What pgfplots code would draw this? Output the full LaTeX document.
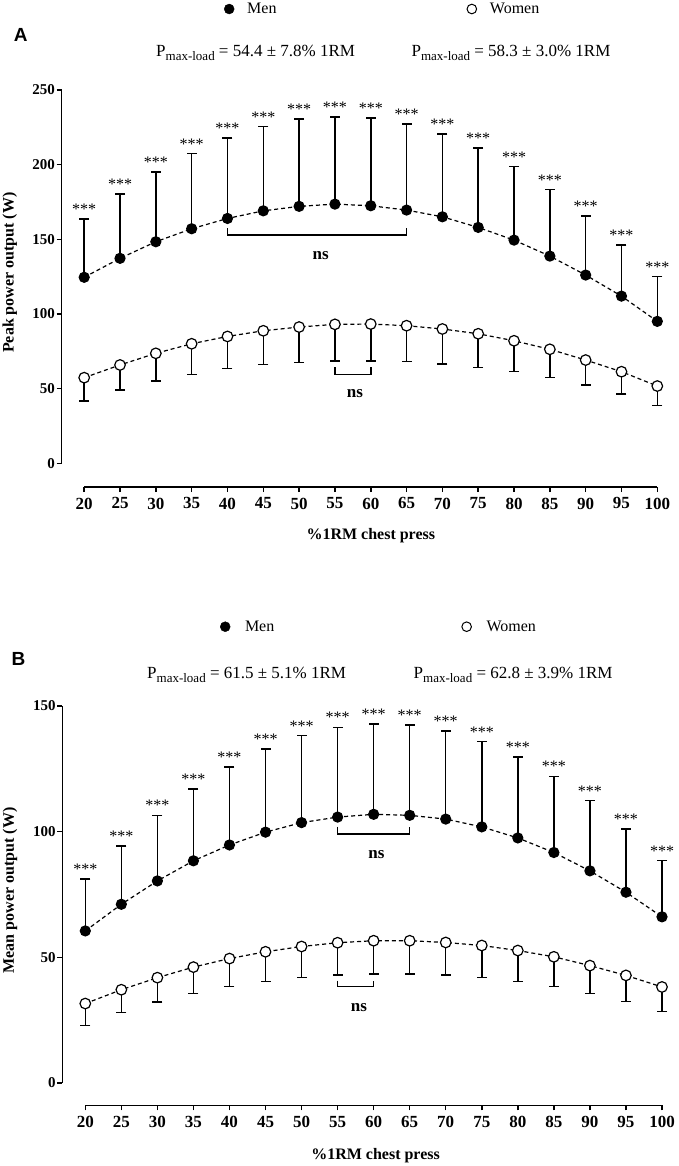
\documentclass[border=0pt]{standalone}
\usepackage{fontspec}
\setmainfont{Liberation Serif}
\newfontfamily\arialfont{Liberation Sans}
\usepackage{pgfplots}
\usepackage{pgfplotstable}
\pgfplotsset{compat=1.18}

\pgfplotstableread{
x m mu w wl
20 124.6 163.6 57.4 41.8
25 137.3 180.3 65.9 49.3
30 148.4 195.0 73.7 55.2
35 157.1 207.5 80.1 59.6
40 164.0 218.0 85.0 63.4
45 169.1 225.4 88.8 66.1
50 172.1 230.5 91.3 67.7
55 173.6 232.0 93.1 68.5
60 172.5 231.4 93.3 68.7
65 169.6 227.4 92.2 68.1
70 165.1 220.7 90.0 66.5
75 158.0 211.3 86.8 64.3
80 149.5 198.8 82.1 61.4
85 138.8 183.4 76.4 57.4
90 126.1 165.8 69.2 52.5
95 112.0 146.2 61.4 46.4
100 95.1 125.2 51.8 38.9
}\dataA

\pgfplotstableread{
x m mu w wl
20 60.5 81.1 31.6 22.8
25 71.1 94.3 37.1 28.1
30 80.4 106.5 41.9 32.3
35 88.4 117.0 46.1 35.6
40 94.7 125.8 49.5 38.4
45 99.8 132.9 52.2 40.4
50 103.6 138.2 54.3 42.0
55 105.8 141.5 55.8 43.0
60 106.9 142.9 56.6 43.4
65 106.5 142.4 56.6 43.4
70 105.0 140.1 55.9 42.9
75 101.9 135.8 54.7 42.0
80 97.5 129.8 52.7 40.4
85 91.7 122.0 50.2 38.4
90 84.4 112.3 46.7 35.6
95 75.9 101.1 42.8 32.4
100 66.1 88.5 38.2 28.5
}\dataB

\pgfplotsset{
  panel/.style={
    scale only axis, clip=false,
    axis line style={draw=none},
    xmax=100,
    xtick={20,25,...,100},
    tick align=outside, xtick pos=bottom, ytick pos=left,
    major tick length=5pt,
    tick style={black, line width=1.5pt},
    /pgf/number format/assume math mode=true,
    xticklabel style={font=\fontsize{17}{17}\selectfont\bfseries, inner ysep=5.5pt},
    yticklabel style={font=\fontsize{15}{15}\selectfont\bfseries, inner xsep=1.5pt},
    label style={font=\fontsize{16}{16}\selectfont\bfseries},
    xlabel={\%1RM chest press},
    legend columns=2,
    legend style={draw=none, fill=none, inner sep=0pt, outer sep=0pt, anchor=west,
      nodes={inner sep=0pt, font=\fontsize{16}{16}\selectfont}},
  },
  errM/.style={black, solid, line width=1.5pt, only marks, mark=none, forget plot,
    error bars/.cd, y dir=plus, y explicit,
    error bar style={black, solid, line width=1.5pt}, error mark=none},
  errW/.style={black, solid, line width=1.5pt, only marks, mark=none, forget plot,
    error bars/.cd, y dir=minus, y explicit,
    error bar style={black, solid, line width=1.5pt}, error mark=none},
  caps/.style={black, solid, only marks, mark=-, mark size=5pt, forget plot,
    mark options={solid, line width=1.5pt}},
  lineM/.style={black, line width=1.2pt, dash pattern=on 4pt off 3pt, forget plot,
    mark=*, mark size=5pt, mark options={solid, fill=black}},
  lineW/.style={black, line width=1.2pt, dash pattern=on 4pt off 3pt, forget plot,
    mark=*, mark size=5.3pt, mark options={solid, fill=white, line width=1.2pt}},
  stars/.style={draw=none, mark=none, forget plot, nodes near coords={***},
    every node near coord/.append style={anchor=base, inner sep=0pt, yshift=4.4pt,
      font=\fontsize{16}{16}\selectfont, text=black}},
}

\begin{document}
\begin{tikzpicture}
\path[use as bounding box] (0pt,0pt) rectangle (678pt,-1166pt);

% ---------------- Panel A ----------------
\begin{axis}[panel,
  at={(61.7pt,-487pt)}, anchor=south west,
  width=595.6pt, height=397pt,
  xmin=16.86, ymin=-15.8, ymax=250,
  ytick={0,50,...,250},
  ylabel={Peak power output (W)},
  ylabel style={at={(axis description cs:-0.087,0.540)}, anchor=center},
  xlabel style={at={(axis description cs:0.519,-0.1234)}, anchor=center},
  legend style={at={(axis description cs:0.2725,1.204)},
    /tikz/every odd column/.append style={column sep=12.8pt},
    /tikz/every even column/.append style={column sep=190pt}},
]
\draw[line width=1.5pt] (axis cs:16.86,0) -- (axis cs:16.86,250);
\draw[line width=1.5pt] (axis cs:20,-15.8) -- (axis cs:100,-15.8);

\addlegendimage{legend image code/.code={\fill[black] (0pt,0pt) circle (5pt);}}
\addlegendentry{Men}
\addlegendimage{legend image code/.code={\draw[black, fill=white, line width=1pt] (0pt,0pt) circle (4.8pt);}}
\addlegendentry{Women}

\addplot[errM] table[x=x, y=m, y error plus expr=\thisrow{mu}-\thisrow{m}] {\dataA};
\addplot[errW] table[x=x, y=w, y error minus expr=\thisrow{w}-\thisrow{wl}] {\dataA};
\addplot[caps] table[x=x, y=mu] {\dataA};
\addplot[caps] table[x=x, y=wl] {\dataA};
\addplot[lineM] table[x=x, y=m] {\dataA};
\addplot[lineW] table[x=x, y=w] {\dataA};
\addplot[stars] table[x=x, y=mu] {\dataA};

\draw[line width=1.5pt] (axis cs:40,157.4) -- (axis cs:40,152.9) -- (axis cs:65,152.9) -- (axis cs:65,157.4);
\node[anchor=base, inner sep=0pt, font=\fontsize{17}{17}\selectfont\bfseries] at (axis cs:53,136.8) {ns};
\draw[line width=1.5pt] (axis cs:55,64.3) -- (axis cs:55,59.6) -- (axis cs:60,59.6) -- (axis cs:60,64.3);
\node[anchor=base, inner sep=0pt, font=\fontsize{17}{17}\selectfont\bfseries] at (axis cs:57.8,44.4) {ns};
\end{axis}

\node[inner sep=0pt, font=\arialfont\fontsize{19}{19}\selectfont\bfseries] at (20.8pt,-35pt) {A};
\node[anchor=base west, inner sep=0pt, font=\fontsize{17}{17}\selectfont] at (156pt,-56.7pt)
  {P\raisebox{-4pt}{\fontsize{13}{13}\selectfont max-load} = 54.4 ± 7.8\% 1RM};
\node[anchor=base west, inner sep=0pt, font=\fontsize{17}{17}\selectfont] at (411.4pt,-56.7pt)
  {P\raisebox{-4pt}{\fontsize{13}{13}\selectfont max-load} = 58.3 ± 3.0\% 1RM};

% ---------------- Panel B ----------------
\begin{axis}[panel,
  at={(62.3pt,-1105.3pt)}, anchor=south west,
  width=599.7pt, height=399.3pt,
  xmin=16.81, ymin=-8.9, ymax=150,
  ytick={0,50,...,150},
  ylabel={Mean power output (W)},
  ylabel style={at={(axis description cs:-0.087,0.538)}, anchor=center},
  xlabel style={at={(axis description cs:0.5224,-0.127)}, anchor=center},
  legend style={at={(axis description cs:0.263,1.1986)},
    /tikz/every odd column/.append style={column sep=14.6pt},
    /tikz/every even column/.append style={column sep=187pt}},
]
\draw[line width=1.5pt] (axis cs:16.81,0) -- (axis cs:16.81,150);
\draw[line width=1.5pt] (axis cs:20,-8.9) -- (axis cs:100,-8.9);

\addlegendimage{legend image code/.code={\fill[black] (0pt,0pt) circle (5pt);}}
\addlegendentry{Men}
\addlegendimage{legend image code/.code={\draw[black, fill=white, line width=1pt] (0pt,0pt) circle (4.8pt);}}
\addlegendentry{Women}

\addplot[errM] table[x=x, y=m, y error plus expr=\thisrow{mu}-\thisrow{m}] {\dataB};
\addplot[errW] table[x=x, y=w, y error minus expr=\thisrow{w}-\thisrow{wl}] {\dataB};
\addplot[caps] table[x=x, y=mu] {\dataB};
\addplot[caps] table[x=x, y=wl] {\dataB};
\addplot[lineM] table[x=x, y=m] {\dataB};
\addplot[lineW] table[x=x, y=w] {\dataB};
\addplot[stars] table[x=x, y=mu] {\dataB};

\draw[line width=1.5pt] (axis cs:55,102) -- (axis cs:55,99.1) -- (axis cs:65,99.1) -- (axis cs:65,102);
\node[anchor=base, inner sep=0pt, font=\fontsize{17}{17}\selectfont\bfseries] at (axis cs:60.4,89.5) {ns};
\draw[line width=1.5pt] (axis cs:55,40.7) -- (axis cs:55,38.3) -- (axis cs:60,38.3) -- (axis cs:60,40.7);
\node[anchor=base, inner sep=0pt, font=\fontsize{17}{17}\selectfont\bfseries] at (axis cs:57.95,28.3) {ns};
\end{axis}

\node[inner sep=0pt, font=\arialfont\fontsize{19}{19}\selectfont\bfseries] at (18.4pt,-659.3pt) {B};
\node[anchor=base west, inner sep=0pt, font=\fontsize{17}{17}\selectfont] at (147pt,-678.3pt)
  {P\raisebox{-4pt}{\fontsize{13}{13}\selectfont max-load} = 61.5 ± 5.1\% 1RM};
\node[anchor=base west, inner sep=0pt, font=\fontsize{17}{17}\selectfont] at (413.5pt,-678.3pt)
  {P\raisebox{-4pt}{\fontsize{13}{13}\selectfont max-load} = 62.8 ± 3.9\% 1RM};
\end{tikzpicture}
\end{document}
